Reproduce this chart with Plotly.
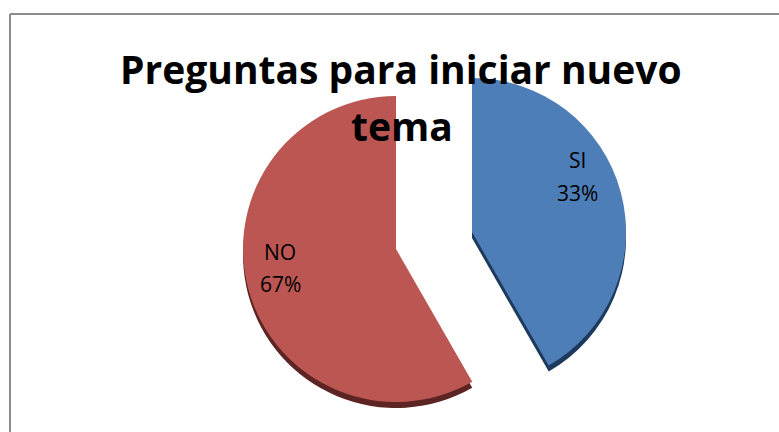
import plotly.graph_objects as go

W, H = 779, 432

categories = ["SI", "NO"]
# the printed percentages don't match the slice sizes in the picture
label_pct = [33, 67]
slice_share = [41.7, 58.3]

title_lines = ["Preguntas para iniciar nuevo", "tema"]

colors = ["#4e7eb7", "#bb5652"]
rim_colors = ["#1d3a5c", "#5c2422"]
FONT = "Open Sans"


def domain(cx, cy, r):
    return dict(x=[(cx - r) / W, (cx + r) / W],
                y=[1 - (cy + r) / H, 1 - (cy - r) / H])


def slice_trace(idx, color, cx, cy, r):
    # one slice per pie so each one can sit on its own centre (exploded look)
    slice_colors = ["rgba(0,0,0,0)"] * len(categories)
    slice_colors[idx] = color
    return go.Pie(
        labels=categories, values=slice_share, sort=False,
        direction="clockwise", rotation=0,
        domain=domain(cx, cy, r),
        marker=dict(colors=slice_colors, line=dict(width=0)),
        textinfo="none", hoverinfo="skip", showlegend=False,
    )


def text_at(fig, x, y, txt, size):
    fig.add_annotation(x=x / W, y=1 - y / H, xref="paper", yref="paper",
                       xanchor="center", yanchor="middle",
                       text=txt, showarrow=False,
                       font=dict(family=FONT, size=size, color="black"))


centers = [(472, 232, 154), (396, 249, 153)]
RIM = 6

fig = go.Figure()
for i, (cx, cy, r) in enumerate(centers):
    fig.add_trace(slice_trace(i, rim_colors[i], cx, cy + RIM, r))
for i, (cx, cy, r) in enumerate(centers):
    fig.add_trace(slice_trace(i, colors[i], cx, cy, r))

text_at(fig, 401, 68, f"<b>{title_lines[0]}</b>", 39)
text_at(fig, 402, 125, f"<b>{title_lines[1]}</b>", 39)

label_pos = [(577, 160, 193), (280, 252, 284)]
for i, (x, y1, y2) in enumerate(label_pos):
    text_at(fig, x, y1, categories[i], 21)
    text_at(fig, x, y2, f"{label_pct[i]}%", 21)

frame = dict(color="#8c8c8c", width=2)
fig.add_shape(type="line", xref="paper", yref="paper", line=frame,
              x0=10 / W, y0=1 - 14 / H, x1=1, y1=1 - 14 / H)
fig.add_shape(type="line", xref="paper", yref="paper", line=frame,
              x0=10 / W, y0=1 - 14 / H, x1=10 / W, y1=0)

fig.update_layout(
    width=W, height=H, margin=dict(l=0, r=0, t=0, b=0),
    paper_bgcolor="white", plot_bgcolor="white", showlegend=False,
)
# page default body margin would push everything 8px off
fig.write_html("out.html", config=dict(displayModeBar=False),
               post_script="document.body.style.margin='0';document.body.style.overflow='hidden';")
